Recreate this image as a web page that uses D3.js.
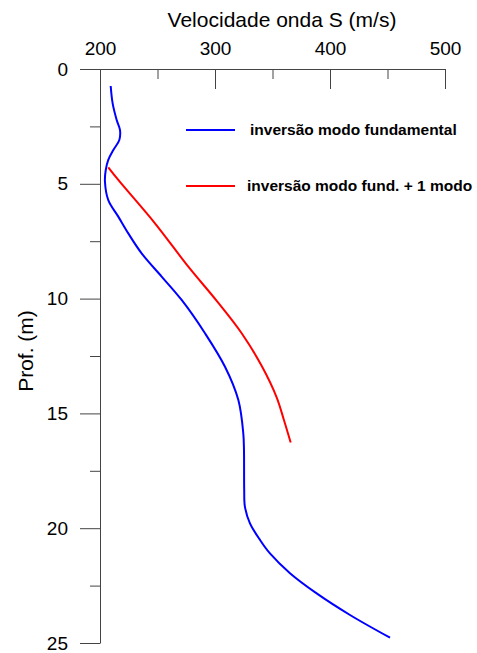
<!DOCTYPE html>
<html>
<head>
<meta charset="utf-8">
<script src="https://cdn.jsdelivr.net/npm/d3@7"></script>
<style>
  html, body { margin: 0; padding: 0; background: #fff; }
  svg { display: block; font-family: "Liberation Sans", Arial, sans-serif; }
</style>
</head>
<body>
<svg id="chart" width="477" height="653"></svg>
<script>
// Shear-wave velocity profiles (depth in m, velocity in m/s)
const fundDepth = [0.74, 1.5, 2.22, 2.66, 3.09, 3.53, 3.96, 4.4, 4.9, 5.71, 6.43, 7.16, 8.03, 9.04, 10.06, 11.51, 12.97, 14.42, 15.87, 16.6, 17.5, 18.34, 19.06, 19.79, 20.5, 21.1, 21.96, 22.84, 23.78, 24.77];
const fundVel   = [209.3, 211, 214.5, 217.4, 216.8, 211.6, 207.2, 205, 204.3, 207.2, 215.9, 224.6, 236.2, 253.6, 271, 291.3, 308.7, 320.3, 324.6, 325.2, 325.3, 325.4, 326, 330.4, 339, 347.8, 365.2, 388.4, 417.4, 452.2];

const multiDepth = [4.28, 4.83, 6.72, 8.61, 10.1, 11.51, 12.97, 14.3, 15.3, 16.27];
const multiVel   = [207.2, 215.9, 247.8, 276.8, 301.5, 323.2, 341, 353.6, 360, 365.8];

const velMajorTicks = [200, 300, 400, 500];
const velMinorTicks = [250, 350, 450];
const depthMajorTicks = [0, 5, 10, 15, 20, 25];
const depthMinorTicks = [2.5, 7.5, 12.5, 17.5, 22.5];

const legendLabels = ["inversão modo fundamental", "inversão modo fund. + 1 modo"];
const seriesColors = ["#0000ff", "#ff0000"];

const svg = d3.select("#chart");
const plotLeft = 100, plotRight = 445, plotTop = 69, plotBottom = 643;

const x = d3.scaleLinear().domain([200, 500]).range([plotLeft, plotRight]);
const y = d3.scaleLinear().domain([0, 25]).range([plotTop, plotBottom]);

const axisColor = "#444";

// Top (velocity) axis: ticks point into the plot
const gTop = svg.append("g").attr("transform", `translate(0,${plotTop})`);
gTop.call(d3.axisTop(x).tickValues(velMajorTicks).tickSize(-20).tickSizeOuter(0).tickPadding(14));
const gTopMinor = svg.append("g").attr("transform", `translate(0,${plotTop})`);
gTopMinor.call(d3.axisTop(x).tickValues(velMinorTicks).tickSize(-10).tickSizeOuter(0).tickFormat(""));
gTopMinor.select(".domain").remove();

// Left (depth) axis: ticks point outward
const gLeft = svg.append("g").attr("transform", `translate(${plotLeft},0)`);
gLeft.call(d3.axisLeft(y).tickValues(depthMajorTicks).tickSize(20).tickSizeOuter(0).tickPadding(12));
const gLeftMinor = svg.append("g").attr("transform", `translate(${plotLeft},0)`);
gLeftMinor.call(d3.axisLeft(y).tickValues(depthMinorTicks).tickSize(10).tickSizeOuter(0).tickFormat(""));
gLeftMinor.select(".domain").remove();

svg.selectAll(".domain, .tick line").attr("stroke", axisColor).attr("stroke-width", 1);
svg.selectAll(".tick text")
  .attr("fill", "#000")
  .style("font-size", "19px")
  .style("font-family", "'Liberation Sans', Arial, sans-serif");

// Axis titles
svg.append("text")
  .attr("x", 282).attr("y", 27)
  .attr("text-anchor", "middle")
  .style("font-size", "21px")
  .text("Velocidade onda S (m/s)");

svg.append("text")
  .attr("transform", "translate(33,351) rotate(-90)")
  .attr("text-anchor", "middle")
  .style("font-size", "21px")
  .text("Prof. (m)");

// Profile curves
const line = d3.line()
  .x(d => x(d[1]))
  .y(d => y(d[0]))
  .curve(d3.curveCatmullRom.alpha(0.5));

const series = [
  d3.zip(fundDepth, fundVel),
  d3.zip(multiDepth, multiVel)
];

svg.selectAll("path.profile")
  .data(series)
  .join("path")
  .attr("class", "profile")
  .attr("d", line)
  .attr("fill", "none")
  .attr("stroke", (d, i) => seriesColors[i])
  .attr("stroke-width", 2);

// Legend
const legendY = [130, 186];
const legendTextX = [250, 247];
legendLabels.forEach((label, i) => {
  svg.append("line")
    .attr("x1", 186).attr("x2", 235)
    .attr("y1", legendY[i]).attr("y2", legendY[i])
    .attr("stroke", seriesColors[i]).attr("stroke-width", 2);
  svg.append("text")
    .attr("x", legendTextX[i]).attr("y", legendY[i] + 5)
    .style("font-size", "15.5px")
    .style("font-weight", "bold")
    .text(label);
});
</script>
</body>
</html>
